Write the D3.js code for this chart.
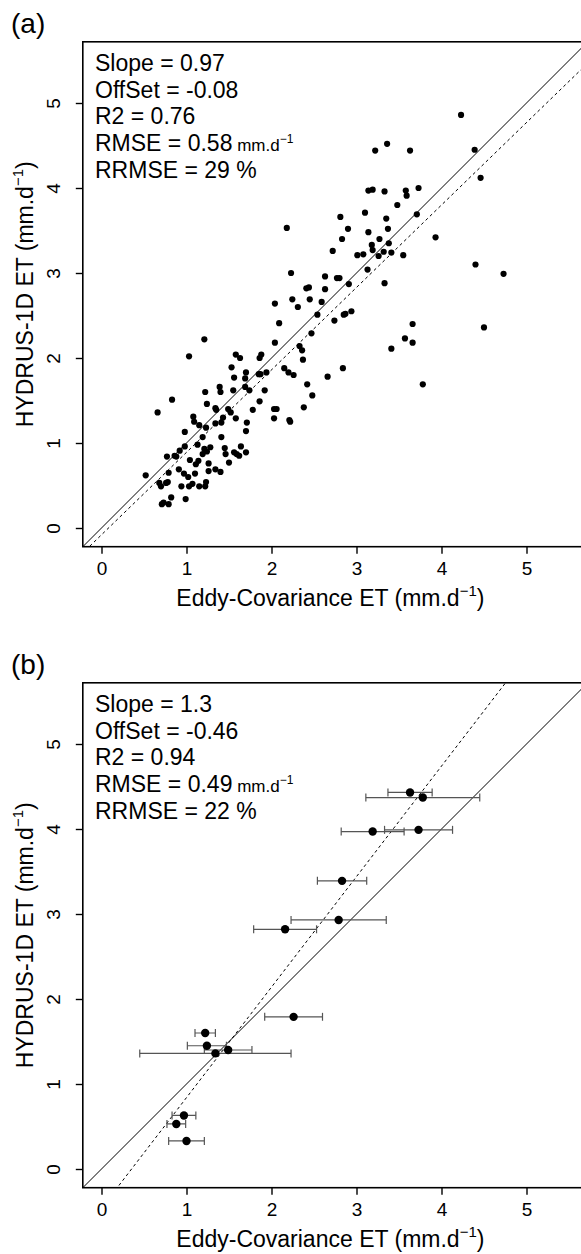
<!DOCTYPE html>
<html>
<head>
<meta charset="utf-8">
<script src="https://cdn.jsdelivr.net/npm/d3@7"></script>
<style>
  body { margin: 0; background: #fff; }
  svg { display: block; font-family: "Liberation Sans", Arial, Helvetica, sans-serif; }
</style>
</head>
<body>
<svg id="fig" width="581" height="1254"></svg>
<script>
// panel (a): daily ET, eddy covariance vs HYDRUS-1D
const ecA = [2.18,2.23,2.04,2.245,2.31,2.41,2.44,2.45,2.09,2.54,2.47,2.04,2.33,1.21,2.59,
  2.36,2.37,1.03,2.15,2.20,2.26,2.42,2.48,2.38,2.22,2.21,2.03,2.06,2.03,1.58,
  1.63,1.88,1.86,1.53,1.70,1.56,1.69,1.85,1.87,1.94,1.39,1.40,1.22,1.55,1.69,
  1.74,1.92,1.86,1.78,1.24,1.34,1.35,1.49,1.52,1.43,1.58,1.34,1.41,1.71,1.70,
  1.08,1.09,1.15,1.23,0.83,0.66,0.98,1.41,1.19,1.13,0.98,0.92,0.86,0.77,0.88,
  1.21,1.28,1.24,1.19,1.45,1.46,1.56,1.59,1.62,1.64,1.70,1.04,1.14,1.11,1.26,
  1.50,0.52,0.91,0.79,0.97,1.02,1.10,1.26,1.34,1.40,0.68,0.70,0.76,0.78,0.94,
  1.03,1.07,1.15,1.22,1.23,0.82,0.71,0.73,0.79,0.99,
  4.23,4.39,4.46,3.36,3.22,3.63,3.14,3.19,3.33,3.58,3.59,3.73,3.48,3.71,3.10,
  2.81,3.35,2.90,3.37,2.83,3.14,3.27,3.18,3.19,3.38,3.32,3.41,3.26,2.72,3.01,
  3.08,3.55,3.93,3.13,2.63,2.77,2.80,2.91,3.33,4.40,4.73,2.63,2.74,2.85,2.87,
  2.94,3.66,3.57,3.66,4.50,3.41,2.66,2.84,3.78];
const hydA = [3.53,3.00,2.64,2.69,2.60,2.82,2.83,2.69,2.41,2.51,2.29,2.18,2.14,2.22,2.66,
  2.09,1.98,2.02,1.88,1.83,1.80,1.69,1.56,1.42,1.25,1.27,1.40,1.40,1.29,2.04,
  2.00,2.04,2.00,1.89,1.83,1.77,1.76,1.81,1.81,1.83,1.66,1.60,1.60,1.62,1.66,
  1.62,1.62,1.49,1.39,1.46,1.41,1.39,1.40,1.36,1.30,1.29,1.23,1.24,1.24,1.14,
  1.31,1.25,1.21,1.18,1.51,1.36,1.13,1.07,1.07,0.98,0.96,0.91,0.85,0.84,0.84,
  0.93,0.95,0.90,0.87,0.94,0.87,0.89,0.87,0.85,0.96,0.89,0.80,0.79,0.75,0.76,
  0.77,0.62,0.69,0.65,0.64,0.60,0.64,0.67,0.69,0.66,0.53,0.49,0.53,0.54,0.49,
  0.49,0.52,0.49,0.49,0.54,0.36,0.28,0.30,0.28,0.34,
  4.86,4.45,4.12,4.52,4.44,4.44,3.97,3.98,3.96,3.97,3.91,4.00,3.80,3.69,3.71,
  3.66,3.64,3.52,3.52,3.40,3.48,3.40,3.33,3.27,3.35,3.25,3.24,3.20,3.26,3.21,
  3.22,3.21,3.42,3.04,2.96,2.94,2.94,2.87,2.88,3.10,2.99,2.81,2.44,2.51,2.52,
  2.55,2.40,2.23,2.18,2.36,2.11,1.78,1.88,1.69];

// panel (b): means with horizontal error bars (half width)
const ecB  = [3.63,3.78,3.19,3.73,2.83,2.79,2.16,2.26,1.22,1.24,1.34,1.49,0.97,0.88,1.00];
const hydB = [4.43,4.37,3.97,3.99,3.39,2.93,2.82,1.79,1.60,1.45,1.36,1.40,0.63,0.53,0.33];
const sdB  = [0.26,0.67,0.37,0.40,0.29,0.56,0.37,0.34,0.12,0.23,0.89,0.28,0.14,0.11,0.21];

const tickVals = [0, 1, 2, 3, 4, 5];
const slopes = [0.97, 1.3];
const offsets = [-0.08, -0.46];
const statsA = ["Slope = 0.97", "OffSet = -0.08", "R2 = 0.76", "RMSE = 0.58", "RRMSE = 29 %"];
const statsB = ["Slope = 1.3", "OffSet = -0.46", "R2 = 0.94", "RMSE = 0.49", "RRMSE = 22 %"];
const panelLabels = ["(a)", "(b)"];

const svg = d3.select("#fig");

function drawPanel(idx, top, xs, ys, sds, stats) {
  const g = svg.append("g").attr("transform", `translate(0,${top})`);
  const x = d3.scaleLinear().domain([0, 5]).range([101.5, 526.5]);
  const y = d3.scaleLinear().domain([0, 5]).range([486, 61]);
  const left = x(-0.22), right = x(5.7), ytop = y(5.72), ybot = y(-0.22);

  const clipId = "clip" + idx;
  g.append("clipPath").attr("id", clipId)
    .append("rect").attr("x", left).attr("y", ytop)
    .attr("width", right - left).attr("height", ybot - ytop);

  const plot = g.append("g").attr("clip-path", `url(#${clipId})`);

  // 1:1 line and fitted line
  plot.append("line")
    .attr("x1", x(-1)).attr("y1", y(-1)).attr("x2", x(7)).attr("y2", y(7))
    .attr("stroke", "#000").attr("stroke-width", 1);
  const fit = v => slopes[idx] * v + offsets[idx];
  plot.append("line")
    .attr("x1", x(-1)).attr("y1", y(fit(-1))).attr("x2", x(7)).attr("y2", y(fit(7)))
    .attr("stroke", "#000").attr("stroke-width", 1).attr("stroke-dasharray", "3,3");

  if (sds) {
    const eb = plot.append("g").attr("stroke", "#555").attr("stroke-width", 1.2);
    xs.forEach((v, i) => {
      const lo = x(v - sds[i]), hi = x(v + sds[i]), yy = y(ys[i]);
      eb.append("line").attr("x1", lo).attr("x2", hi).attr("y1", yy).attr("y2", yy);
      eb.append("line").attr("x1", lo).attr("x2", lo).attr("y1", yy - 4).attr("y2", yy + 4);
      eb.append("line").attr("x1", hi).attr("x2", hi).attr("y1", yy - 4).attr("y2", yy + 4);
    });
  }

  plot.selectAll("circle").data(xs).join("circle")
    .attr("cx", d => x(d))
    .attr("cy", (d, i) => y(ys[i]))
    .attr("r", sds ? 4.2 : 3.1)
    .attr("fill", "#000");

  // box
  g.append("rect").attr("x", left).attr("y", ytop)
    .attr("width", right - left).attr("height", ybot - ytop)
    .attr("fill", "none").attr("stroke", "#000").attr("stroke-width", 1.6);

  // axes
  const fmt = d3.format("d");
  const xa = g.append("g").attr("transform", `translate(0,${ybot})`)
    .call(d3.axisBottom(x).tickValues(tickVals).tickFormat(fmt)
      .tickSize(7).tickPadding(8).tickSizeOuter(0));
  xa.select(".domain").remove();
  xa.selectAll("line").attr("stroke-width", 1.4);
  xa.selectAll("text").attr("font-size", 19).attr("fill", "#000").attr("font-family", null);

  const ya = g.append("g").attr("transform", `translate(${left},0)`)
    .call(d3.axisLeft(y).tickValues(tickVals).tickFormat(fmt).tickSize(7).tickSizeOuter(0));
  ya.select(".domain").remove();
  ya.selectAll("line").attr("stroke-width", 1.4);
  ya.selectAll("text")
    .attr("x", null).attr("dy", null)
    .attr("text-anchor", "middle")
    .attr("transform", "translate(-23,0) rotate(-90)")
    .attr("font-size", 19).attr("fill", "#000").attr("font-family", null);

  // stats text
  const st = g.append("text").attr("font-size", 23).attr("fill", "#000");
  stats.forEach((s, i) => {
    st.append("tspan").attr("x", 95).attr("y", ytop + 29 + i * 26.7).text(s);
    if (s.startsWith("RMSE")) {
      st.append("tspan").attr("font-size", 17).text(" mm.d");
      st.append("tspan").attr("font-size", 12).attr("dy", -8).text("\u22121");
    }
  });

  // axis titles
  const xt = g.append("text").attr("x", (left + right) / 2 - 4).attr("y", 564)
    .attr("text-anchor", "middle").attr("font-size", 23);
  xt.append("tspan").text("Eddy-Covariance ET (mm.d");
  xt.append("tspan").attr("font-size", 15).attr("dy", -10).text("\u22121");
  xt.append("tspan").attr("dy", 10).text(")");

  const yt = g.append("text")
    .attr("transform", `translate(33,${(ytop + ybot) / 2}) rotate(-90)`)
    .attr("text-anchor", "middle").attr("font-size", 23);
  yt.append("tspan").text("HYDRUS-1D ET (mm.d");
  yt.append("tspan").attr("font-size", 15).attr("dy", -10).text("\u22121");
  yt.append("tspan").attr("dy", 10).text(")");

  g.append("text").attr("x", 11).attr("y", -9).attr("font-size", 28)
    .text(panelLabels[idx]);
}

drawPanel(0, 42, ecA, hydA, null, statsA);
drawPanel(1, 683, ecB, hydB, sdB, statsB);
</script>
</body>
</html>
